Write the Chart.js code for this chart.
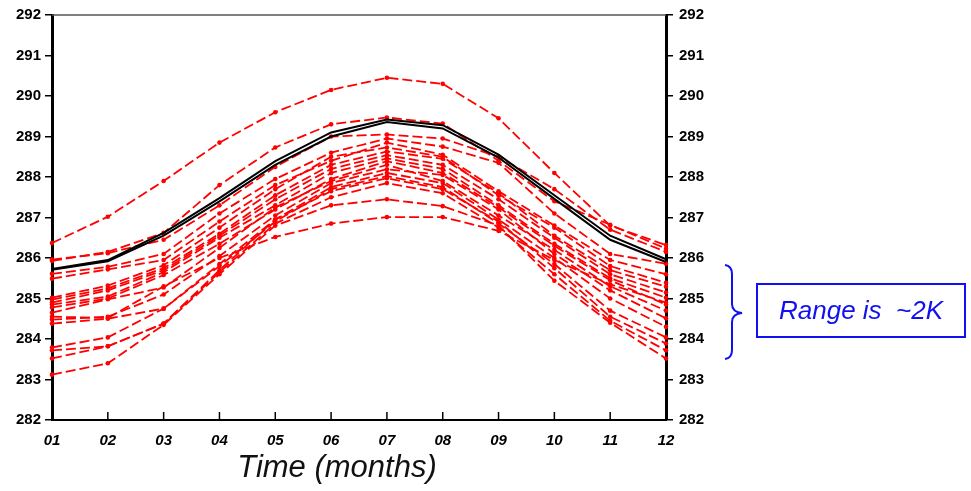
<!DOCTYPE html>
<html>
<head>
<meta charset="utf-8">
<script src="https://cdn.jsdelivr.net/npm/chart.js@4"></script>
<style>
  body { margin: 0; background: #fff; }
  #wrap { position: relative; width: 971px; height: 491px; }
  #xtitle {
    position: absolute; left: 237px; top: 449px; width: 200px; text-align: center;
    font: italic 31px "Liberation Sans", Arial, sans-serif; color: #111; white-space: nowrap;
  }
  #note {
    position: absolute; left: 756px; top: 283px; width: 206px; height: 51px;
    border: 2px solid #1010f0; box-sizing: content-box;
    font: italic 26px "Liberation Sans", Arial, sans-serif; color: #1010f0;
    display: flex; align-items: center; justify-content: center; white-space: pre;
  }
  #brace { position: absolute; left: 715px; top: 260px; }
</style>
</head>
<body>
<div id="wrap">
  <canvas id="c"></canvas>
  <div id="xtitle">Time (months)</div>
  <svg id="brace" width="40" height="105">
    <path d="M10 5 Q17 6 17 14 L17 44 Q17 52 27 53 Q17 54 17 62 L17 90 Q17 98 10 99"
          fill="none" stroke="#1010f0" stroke-width="2"/>
  </svg>
  <div id="note">Range is  ~2K</div>
</div>
<script>
// month labels on the x axis
const months = ["01", "02", "03", "04", "05", "06", "07", "08", "09", "10", "11", "12"];
const yMin = 282, yMax = 292;

// two black (solid) curves
const black1 = [285.73, 285.95, 286.62, 287.48, 288.39, 289.1, 289.42, 289.28, 288.55, 287.55, 286.55, 285.97];
const black2 = [285.71, 285.92, 286.55, 287.4, 288.3, 289.0, 289.36, 289.2, 288.48, 287.46, 286.45, 285.9];

// red dashed curves
const red1 = [286.37, 287.02, 287.9, 288.85, 289.6, 290.15, 290.45, 290.3, 289.45, 288.1, 286.8, 286.32];
const red2 = [285.93, 286.15, 286.62, 287.8, 288.73, 289.3, 289.47, 289.32, 288.4, 287.4, 286.82, 286.23];
const red3 = [285.96, 286.12, 286.45, 287.3, 288.25, 289.0, 289.05, 288.95, 288.5, 287.7, 286.7, 286.15];
const red4 = [285.61, 285.78, 286.1, 287.1, 287.95, 288.6, 288.95, 288.75, 288.35, 287.1, 286.1, 285.86];
const red5 = [285.49, 285.72, 285.95, 286.9, 287.8, 288.4, 288.85, 288.55, 287.65, 286.8, 285.95, 285.6];
const red6 = [285.02, 285.32, 285.82, 286.75, 287.7, 288.5, 288.73, 288.5, 287.55, 286.75, 285.8, 285.39];
const red7 = [284.97, 285.25, 285.75, 286.6, 287.55, 288.3, 288.63, 288.45, 287.6, 286.55, 285.7, 285.29];
const red8 = [284.9, 285.2, 285.7, 286.55, 287.45, 288.2, 288.54, 288.3, 287.45, 286.5, 285.6, 285.15];
const red9 = [284.85, 285.05, 285.65, 286.5, 287.3, 288.1, 288.46, 288.2, 287.3, 286.35, 285.5, 285.02];
const red10 = [284.78, 285.0, 285.58, 286.35, 287.2, 287.95, 288.39, 288.1, 287.25, 286.3, 285.45, 284.85];
const red11 = [284.65, 284.98, 285.27, 286.25, 287.25, 287.9, 288.3, 287.9, 287.05, 286.2, 285.3, 284.7];
const red12 = [284.48, 284.55, 285.1, 286.05, 287.05, 287.85, 288.19, 288.05, 287.2, 286.1, 285.2, 284.51];
const red13 = [284.38, 284.5, 284.75, 285.85, 286.95, 287.75, 288.1, 287.85, 286.95, 286.0, 285.0, 284.3];
const red14 = [284.55, 284.52, 285.3, 286.0, 286.52, 286.85, 287.01, 287.01, 286.67, 285.95, 285.35, 284.9];
const red15 = [283.79, 284.04, 284.75, 285.8, 286.9, 287.7, 288.02, 287.75, 286.85, 285.85, 284.7, 284.04];
const red16 = [283.72, 283.82, 284.38, 285.7, 286.95, 287.65, 287.97, 287.7, 286.9, 285.75, 284.55, 283.89];
const red17 = [283.52, 283.82, 284.38, 285.65, 286.85, 287.5, 287.85, 287.6, 286.75, 285.6, 284.45, 283.72];
const red18 = [283.12, 283.4, 284.35, 285.6, 286.8, 287.3, 287.45, 287.28, 286.8, 285.44, 284.4, 283.52];

const reds = [red1, red2, red3, red4, red5, red6, red7, red8, red9, red10, red11, red12,
              red13, red14, red15, red16, red17, red18];

function blackSet(data) {
  return { data: data, borderColor: "#000", borderWidth: 2, pointRadius: 0, tension: 0 };
}
function redSet(data) {
  return {
    data: data, borderColor: "#ff0000", borderWidth: 1.8, borderDash: [10, 4],
    pointRadius: 2.3, pointBackgroundColor: "#ff0000", pointBorderWidth: 0, tension: 0
  };
}

const datasets = [blackSet(black1), blackSet(black2)].concat(reds.map(redSet));

// frame line on top and inward ticks on the x axis
const framePlugin = {
  id: "frame",
  afterDraw(chart) {
    const ctx = chart.ctx, a = chart.chartArea, x = chart.scales.x;
    ctx.save();
    ctx.strokeStyle = "#555";
    ctx.lineWidth = 1.5;
    ctx.beginPath();
    ctx.moveTo(a.left, a.top);
    ctx.lineTo(a.right, a.top);
    ctx.stroke();
    ctx.strokeStyle = "#000";
    ctx.lineWidth = 1.5;
    months.forEach((m, i) => {
      const px = x.getPixelForValue(i);
      ctx.beginPath();
      ctx.moveTo(px, a.bottom);
      ctx.lineTo(px, a.bottom - 8);
      ctx.stroke();
    });
    ctx.restore();
  }
};

const tickFont = { family: "'Liberation Sans', Arial, sans-serif", size: 15, weight: "bold" };

new Chart(document.getElementById("c"), {
  type: "line",
  data: { labels: months, datasets: datasets },
  plugins: [framePlugin],
  options: {
    responsive: true,
    maintainAspectRatio: false,
    animation: false,
    layout: { padding: { top: 13, left: 0, right: 0, bottom: 0 } },
    plugins: { legend: { display: false }, tooltip: { enabled: false } },
    scales: {
      x: {
        offset: false,
        grid: { display: false, drawTicks: false },
        border: { display: true, color: "#000", width: 2 },
        ticks: { color: "#000", padding: 12, maxRotation: 0, autoSkip: false,
                 font: { family: tickFont.family, size: 15, weight: "bold", style: "italic" } },
        afterFit(s) { s.height = 71; }
      },
      y: {
        position: "left", min: yMin, max: yMax,
        grid: { drawOnChartArea: false, drawTicks: true, tickLength: 7, color: "#000", lineWidth: 1.5 },
        border: { display: true, color: "#000", width: 3 },
        ticks: { stepSize: 1, color: "#000", padding: 4, font: tickFont },
        afterFit(s) { s.width = 52; }
      },
      y2: {
        position: "right", min: yMin, max: yMax,
        grid: { drawOnChartArea: false, drawTicks: true, tickLength: 7, color: "#000", lineWidth: 1.5 },
        border: { display: true, color: "#000", width: 3 },
        ticks: { stepSize: 1, color: "#000", padding: 6, font: tickFont },
        afterFit(s) { s.width = 305; }
      }
    }
  }
});
</script>
</body>
</html>
